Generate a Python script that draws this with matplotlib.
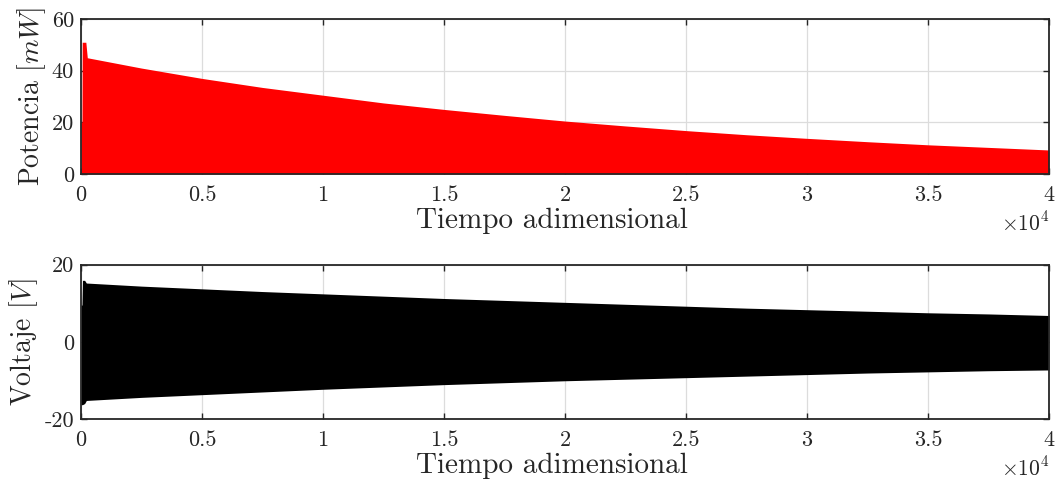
import matplotlib
matplotlib.use("Agg")
import matplotlib.pyplot as plt
from matplotlib.ticker import FixedLocator, FixedFormatter

plt.rcParams['mathtext.fontset'] = 'cm'
plt.rcParams['font.family'] = ['cmr10', 'DejaVu Serif']
plt.rcParams['axes.unicode_minus'] = False

# ---- data (envelopes) ----
power_t = [0, 40, 50, 200, 260, 2500, 5000, 7500, 10000, 12500, 15000, 17500,
           20000, 22500, 25000, 27500, 30000, 32500, 35000, 37500, 40000]
power_env = [20, 20, 51, 51, 45, 41, 37, 33.5, 30.5, 27.5, 25, 22.7,
             20.5, 18.6, 16.8, 15.2, 13.8, 12.5, 11.3, 10.3, 9.3]

volt_t = [0, 40, 60, 150, 220, 2500, 5000, 7500, 10000, 12500, 15000, 17500,
          20000, 22500, 25000, 27500, 30000, 32500, 35000, 37500, 40000]
volt_up = [9.5, 9.5, 15.9, 15.9, 15.2, 14.4, 13.7, 13.0, 12.4, 11.8, 11.2, 10.7,
           10.2, 9.7, 9.2, 8.7, 8.3, 7.9, 7.5, 7.2, 6.8]
volt_lo = [-16.3, -16.3, -16.3, -16.0, -15.2, -14.4, -13.7, -13.0, -12.3, -11.7, -11.1, -10.6,
           -10.1, -9.7, -9.3, -8.9, -8.5, -8.1, -7.8, -7.5, -7.3]

x_ticks = [0, 5000, 10000, 15000, 20000, 25000, 30000, 35000, 40000]
x_labels = ['0', '0.5', '1', '1.5', '2', '2.5', '3', '3.5', '4']
p_ticks = [0, 20, 40, 60]
p_labels = ['0', '20', '40', '60']
v_ticks = [-20, 0, 20]
v_labels = ['-20', '0', '20']

W, H = 1058, 486
fig = plt.figure(figsize=(W / 100, H / 100), dpi=100)
ax1 = fig.add_axes([81 / W, 1 - 174 / H, (1049 - 81) / W, (174 - 19) / H])
ax2 = fig.add_axes([81 / W, 1 - 419 / H, (1049 - 81) / W, (419 - 264.5) / H])

ax1.fill_between(power_t, 0, power_env, color='#ff0000', linewidth=0, zorder=2)
ax2.fill_between(volt_t, volt_lo, volt_up, color='black', linewidth=0, zorder=2)

tick_fs = 16
label_fs = 21

for ax, yt, yl, ylim, ylab in [
        (ax1, p_ticks, p_labels, (0, 60), r'Potencia $[mW]$'),
        (ax2, v_ticks, v_labels, (-20, 20), r'Voltaje $[V]$')]:
    ax.set_xlim(0, 40000)
    ax.set_ylim(*ylim)
    ax.xaxis.set_major_locator(FixedLocator(x_ticks))
    ax.xaxis.set_major_formatter(FixedFormatter(x_labels))
    ax.yaxis.set_major_locator(FixedLocator(yt))
    ax.yaxis.set_major_formatter(FixedFormatter(yl))
    ax.grid(True, color='#dcdcdc', linewidth=0.9, zorder=0)
    ax.set_axisbelow(True)
    ax.tick_params(axis='x', pad=8)
    ax.tick_params(axis='y', pad=5)
    ax.tick_params(direction='in', top=True, right=True, length=4.5, width=1.0,
                   color='#262626', labelsize=tick_fs, labelcolor='#262626')
    for s in ax.spines.values():
        s.set_linewidth(1.3)
        s.set_color('#262626')
        s.set_zorder(5)
    ax.set_xlabel('Tiempo adimensional', fontsize=label_fs, color='#262626')
    ax.xaxis.set_label_coords(0.4866, -0.215)
    ax.set_ylabel(ylab, fontsize=20, color='#262626', labelpad=3)
    ax.text(1.0, -0.235, r'$\times 10^4$', transform=ax.transAxes, ha='right',
            va='top', fontsize=15.5, color='#262626')

fig.savefig('out.png', dpi=100)
